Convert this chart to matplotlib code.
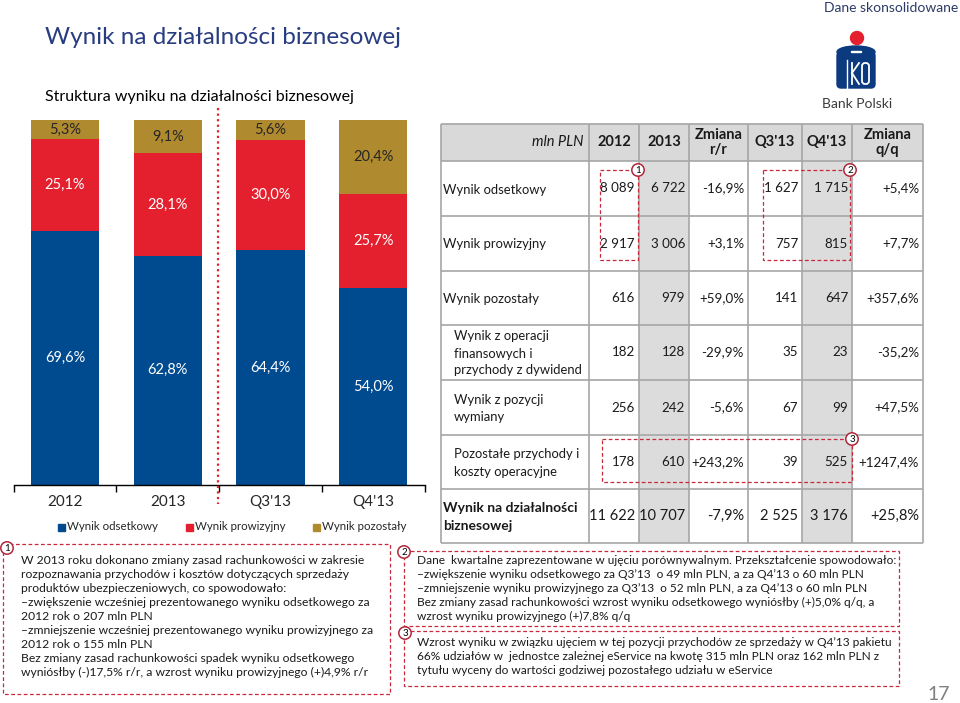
import numpy as np
import matplotlib
matplotlib.use("Agg")
import matplotlib.pyplot as plt
from matplotlib.patches import Rectangle, Circle, Ellipse, FancyBboxPatch

plt.rcParams["font.family"] = ["Lato", "DejaVu Sans"]

# bar chart data (share of business result, %)
periods = ["2012", "2013", "Q3'13", "Q4'13"]
interest = [69.6, 62.8, 64.4, 54.0]
fees = [25.1, 28.1, 30.0, 25.7]
other = [5.3, 9.1, 5.6, 20.4]
series_names = ["Wynik odsetkowy", "Wynik prowizyjny", "Wynik pozostały"]

# table data
col_headers = ["mln PLN", "2012", "2013", "Zmiana\nr/r", "Q3'13", "Q4'13", "Zmiana\nq/q"]
row_labels = [
    "Wynik odsetkowy",
    "Wynik prowizyjny",
    "Wynik pozostały",
    "Wynik z operacji\nfinansowych i\nprzychody z dywidend",
    "Wynik z pozycji\nwymiany",
    "Pozostałe przychody i\nkoszty operacyjne",
    "Wynik na działalności\nbiznesowej",
]
val_2012 = ["8 089", "2 917", "616", "182", "256", "178", "11 622"]
val_2013 = ["6 722", "3 006", "979", "128", "242", "610", "10 707"]
chg_yoy = ["-16,9%", "+3,1%", "+59,0%", "-29,9%", "-5,6%", "+243,2%", "-7,9%"]
val_q3 = ["1 627", "757", "141", "35", "67", "39", "2 525"]
val_q4 = ["1 715", "815", "647", "23", "99", "525", "3 176"]
chg_qoq = ["+5,4%", "+7,7%", "+357,6%", "-35,2%", "+47,5%", "+1247,4%", "+25,8%"]

note1 = [
    "W 2013 roku dokonano zmiany zasad rachunkowości w zakresie",
    "rozpoznawania przychodów i kosztów dotyczących sprzedaży",
    "produktów ubezpieczeniowych, co spowodowało:",
    "–zwiększenie wcześniej prezentowanego wyniku odsetkowego za",
    "2012 rok o 207 mln PLN",
    "–zmniejszenie wcześniej prezentowanego wyniku prowizyjnego za",
    "2012 rok o 155 mln PLN",
    "Bez zmiany zasad rachunkowości spadek wyniku odsetkowego",
    "wyniósłby (-)17,5% r/r, a wzrost wyniku prowizyjnego (+)4,9% r/r",
]
note2 = [
    "Dane  kwartalne zaprezentowane w ujęciu porównywalnym. Przekształcenie spowodowało:",
    "–zwiększenie wyniku odsetkowego za Q3’13  o 49 mln PLN, a za Q4’13 o 60 mln PLN",
    "–zmniejszenie wyniku prowizyjnego za Q3’13  o 52 mln PLN, a za Q4’13 o 60 mln PLN",
    "Bez zmiany zasad rachunkowości wzrost wyniku odsetkowego wyniósłby (+)5,0% q/q, a",
    "wzrost wyniku prowizyjnego (+)7,8% q/q",
]
note3 = [
    "Wzrost wyniku w związku ujęciem w tej pozycji przychodów ze sprzedaży w Q4’13 pakietu",
    "66% udziałów w  jednostce zależnej eService na kwotę 315 mln PLN oraz 162 mln PLN z",
    "tytułu wyceny do wartości godziwej pozostałego udziału w eService",
]

BLUE = "#004A8F"
RED = "#E4202E"
GOLD = "#B08A2E"
NAVY = "#283C80"
DASH = "#C8283C"
W, H = 960, 703

fig = plt.figure(figsize=(9.6, 7.03), dpi=100)

# ---- stacked bar chart ----
ax = fig.add_axes([13.6 / W, (H - 485) / H, 411 / W, 365 / H])
x = np.arange(len(periods))
bw = 0.665
ax.bar(x, interest, bw, color=BLUE, label=series_names[0])
ax.bar(x, fees, bw, bottom=interest, color=RED, label=series_names[1])
ax.bar(x, other, bw, bottom=np.add(interest, fees), color=GOLD, label=series_names[2])


def pct(v):
    return f"{v:.1f}%".replace(".", ",")


for i in range(len(periods)):
    ax.text(x[i], interest[i] / 2, pct(interest[i]), ha="center", va="center",
            color="white", fontsize=10.5)
    ax.text(x[i], interest[i] + fees[i] / 2, pct(fees[i]), ha="center", va="center",
            color="white", fontsize=10.5)
    ax.text(x[i], interest[i] + fees[i] + other[i] / 2, pct(other[i]), ha="center",
            va="center", color="#262626", fontsize=10.5)

ax.set_xlim(-0.5, 3.5)
ax.set_ylim(0, 100)
for s in ["top", "right", "left"]:
    ax.spines[s].set_visible(False)
ax.spines["bottom"].set_linewidth(1.0)
ax.set_yticks([])
ax.set_xticks(x)
ax.set_xticklabels(periods, fontsize=11, color="#262626")
ax.tick_params(axis="x", which="major", length=0, pad=7)
ax.set_xticks(np.arange(-0.5, 3.6, 1.0), minor=True)
ax.tick_params(axis="x", which="minor", length=5, width=1, direction="out")
ax.patch.set_alpha(0)

# ---- overlay in pixel coordinates ----
ov = fig.add_axes([0, 0, 1, 1])
ov.set_xlim(0, W)
ov.set_ylim(H, 0)
ov.axis("off")
ov.patch.set_alpha(0)

# titles
ov.text(45, 38, "Wynik na działalności biznesowej", fontsize=17.5, color=NAVY, va="center")
ov.text(45, 97, "Struktura wyniku na działalności biznesowej", fontsize=11.5,
        color="black", va="center")
ov.text(958, 8, "Dane skonsolidowane", fontsize=10, color="#2B3A67", ha="right", va="center")

# logo
ov.add_patch(Circle((857, 38), 6.5, color=RED))
ov.add_patch(FancyBboxPatch((837, 52), 38, 36, boxstyle="round,pad=0,rounding_size=4",
                            color="#0B3A7E"))
ov.add_patch(Ellipse((856, 52), 38, 12, color="#0B3A7E"))
ov.add_patch(Rectangle((851, 50.5), 10, 1.5, color="white"))
ov.plot([847, 847], [60, 88], color="white", lw=1.0)
ov.plot([852, 852], [63, 84], color="white", lw=1.3)
ov.plot([852, 859], [73, 63], color="white", lw=1.3)
ov.plot([852, 859], [73, 84], color="white", lw=1.3)
ov.add_patch(FancyBboxPatch((862, 63), 7, 21, boxstyle="round,pad=0,rounding_size=3",
                            fill=False, ec="white", lw=1.3))
ov.text(857, 104, "Bank Polski", fontsize=10, color="#3C3C3C", ha="center", va="center")

# divider between annual and quarterly bars
ov.plot([218, 218], [108, 504], color=RED, lw=1.6, ls=(0, (1, 1.5)))

# legend
leg_x = [58, 186, 313]
leg_c = [BLUE, RED, GOLD]
for lx, c, name in zip(leg_x, leg_c, series_names):
    ov.add_patch(Rectangle((lx, 523.5), 7, 7, color=c))
    ov.text(lx + 9, 527, name, fontsize=8.3, color="#262626", va="center")

# ---- table ----
cx = [441, 589, 639, 689, 748, 802, 852, 923]
ry = [124, 161, 216, 271, 325, 380, 435, 489, 543]
GRID = "#A6A6A6"
SHADE = "#DCDCDC"
ov.add_patch(Rectangle((cx[0], ry[0]), cx[-1] - cx[0], ry[1] - ry[0], color="#D9D9D9", lw=0))
for c in (2, 5):
    ov.add_patch(Rectangle((cx[c], ry[1]), cx[c + 1] - cx[c], ry[-1] - ry[1], color=SHADE, lw=0))
for xv in cx:
    ov.plot([xv, xv], [ry[0], ry[-1]], color=GRID, lw=1.2, solid_capstyle="butt")
for yv in ry:
    ov.plot([cx[0], cx[-1]], [yv, yv], color=GRID, lw=1.2, solid_capstyle="butt")

hy = (ry[0] + ry[1]) / 2
ov.text(cx[1] - 5, hy, col_headers[0], fontsize=10.5, style="italic", ha="right",
        va="center", color="#1A1A1A")
for j in range(1, len(col_headers)):
    ov.text((cx[j] + cx[j + 1]) / 2, hy, col_headers[j], fontsize=10.5, weight="bold",
            ha="center", va="center", color="#1A1A1A", linespacing=1.15)

cols = [val_2012, val_2013, chg_yoy, val_q3, val_q4, chg_qoq]
n = len(row_labels)
for i in range(n):
    yc = (ry[i + 1] + ry[i + 2]) / 2
    last = i == n - 1
    indent = 454 if 3 <= i < n - 1 else 443
    ov.text(indent, yc + 1, row_labels[i], fontsize=10 if last else 9.4, ha="left",
            va="center", color="#1A1A1A", linespacing=1.5,
            weight="bold" if last else "normal")
    for j, col in enumerate(cols):
        ov.text(cx[j + 2] - 4, yc, col[i], fontsize=10.5 if last else 9.6, ha="right",
                va="center", color="#1A1A1A")

# ---- annotation markers ----
def marker(xc, yc, label):
    ov.add_patch(Circle((xc, yc), 6.2, fc="white", ec="#B0283A", lw=1.1, zorder=5))
    ov.text(xc, yc + 0.3, label, fontsize=7, ha="center", va="center", zorder=6)


def dashed_box(x0, y0, x1, y1):
    ov.add_patch(Rectangle((x0, y0), x1 - x0, y1 - y0, fill=False, ec=DASH, lw=0.9,
                           ls=(0, (3, 2)), zorder=4))


dashed_box(600, 170, 638, 260)
marker(638, 170, "1")
dashed_box(763, 170, 850, 260)
marker(850, 170, "2")
dashed_box(602, 439, 852, 482)
marker(852, 439, "3")

dashed_box(3, 544, 390, 694)
marker(7, 548, "1")
for k, line in enumerate(note1):
    ov.text(21, 560 + k * 14.1, line, fontsize=8.7, va="center", color="#1A1A1A")

dashed_box(404, 551, 899, 626)
marker(404, 552, "2")
for k, line in enumerate(note2):
    ov.text(417, 561 + k * 13.8, line, fontsize=8.6, va="center", color="#1A1A1A")

dashed_box(404, 631, 899, 686)
marker(405, 633, "3")
for k, line in enumerate(note3):
    ov.text(417, 642 + k * 14, line, fontsize=8.6, va="center", color="#1A1A1A")

ov.text(950, 694, "17", fontsize=14, color="#808080", ha="right", va="center")

fig.savefig("out.png", dpi=100)
